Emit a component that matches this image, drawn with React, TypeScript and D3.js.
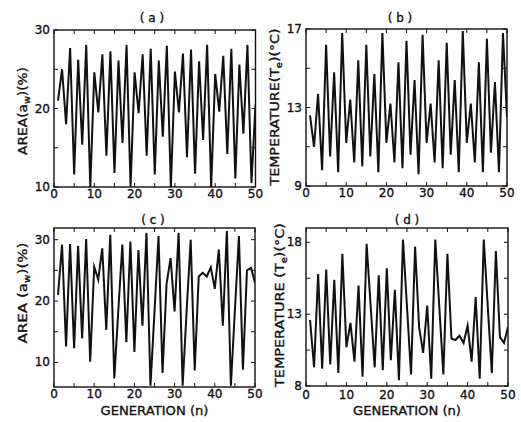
import React from "react";
import * as d3 from "d3";

const generations = d3.range(1, 51);
const xTicks = [0, 10, 20, 30, 40, 50];
const xMinorTicks = [5, 15, 25, 35, 45];

const areaA = [21, 25, 18, 27.7, 11.6, 26.2, 15.4, 28.1, 10, 24.6,
  19.5, 26.9, 14, 27.3, 11.8, 26.1, 15.6, 28.1, 10, 24.6,
  19.4, 26.9, 14, 27.6, 11.6, 26.1, 16.4, 28, 10, 24.7,
  19.5, 27, 13.8, 27.5, 11.7, 26, 16, 28.1, 10, 24.4,
  19.6, 26.7, 14.2, 27.6, 11.1, 25.6, 16.8, 28.1, 10.5, 20.5];

const tempB = [12.6, 11, 13.7, 9.8, 16.2, 10.5, 14.8, 9.7, 16.8, 11.2,
  13.4, 10.2, 15.4, 10, 16.2, 10.5, 14.7, 9.7, 16.8, 11.2,
  13.2, 10.2, 15.3, 9.9, 16.4, 10.6, 14.4, 9.6, 16.7, 11.2,
  13.2, 10.2, 15.4, 9.9, 16.3, 10.6, 14.4, 9.7, 16.9, 11.2,
  13.2, 10.2, 15.3, 9.7, 16.5, 10.7, 14.3, 9.7, 16.8, 12.5];

const areaC = [21, 29.2, 12.6, 29.3, 12.3, 29, 13.9, 30.1, 10.1, 25.6,
  23.5, 28.6, 15.3, 30.8, 7.4, 18.5, 29.2, 13.3, 29.7, 11.7,
  28.3, 16, 31.1, 6.2, 18.3, 30.6, 8.3, 22.8, 27, 18.3,
  31.1, 6.2, 18.5, 30, 8.7, 24, 24.6, 24, 25.5, 22,
  28.4, 16, 31.4, 6.2, 18.5, 30.6, 8.8, 25, 25.4, 23];

const tempD = [12.6, 9.3, 15.8, 9.2, 16.1, 9.5, 15.4, 8.9, 17.2, 10.7,
  12.4, 9.7, 15, 8.65, 17.9, 13.6, 9.3, 15.7, 9.1, 16.2,
  9.8, 14.7, 8.4, 18.2, 13.5, 8.8, 17.7, 12.1, 10.3, 13.6,
  8.5, 18.2, 13.5, 8.8, 17.2, 11.3, 11.2, 11.5, 11, 12.2,
  9.7, 14.2, 8.5, 18.2, 13.5, 8.9, 17.4, 11.4, 11, 12.1];

const ticksA = [10, 20, 30];
const minorA = [15, 25];
const ticksB = [9, 13, 17];
const minorB = [11, 15];
const ticksC = [10, 20, 30];
const minorC = [15, 25];
const ticksD = [8, 13, 18];
const minorD = [10.5, 15.5];

const FONT = "'DejaVu Sans', sans-serif";

type PanelProps = {
  id: string;
  title: string;
  values: number[];
  left: number; right: number; top: number; bottom: number;
  yDomain: [number, number];
  yTicks: number[];
  yMinor: number[];
  xLabelBase: number;
  label: { pre: string; sub: string; post: string; x: number; cy: number; len: number };
  showXLabel: boolean;
  titleX: number; titleY: number;
};

const textStyle = { stroke: "#111", strokeWidth: 0.35 } as const;

function Panel(p: PanelProps) {
  const x = d3.scaleLinear().domain([0, 50]).range([p.left, p.right]);
  const y = d3.scaleLinear().domain(p.yDomain).range([p.bottom, p.top]);
  const line = d3.line<number>().x((_, i) => x(generations[i])).y((d) => y(d));
  const tl = 4;
  const clipId = "clip-" + p.id;
  return (
    <g>
      <defs>
        <clipPath id={clipId}>
          <rect x={p.left} y={p.top - 1} width={p.right - p.left} height={p.bottom - p.top + 2} />
        </clipPath>
      </defs>
      <path d={line(p.values) || ""} fill="none" stroke="#111" strokeWidth={2} strokeLinejoin="miter" strokeMiterlimit={6} clipPath={`url(#${clipId})`} />
      <rect x={p.left} y={p.top} width={p.right - p.left} height={p.bottom - p.top} fill="none" stroke="#111" strokeWidth={1.4} />
      {[...xTicks, ...xMinorTicks].map((t) => (
        <g key={"xt" + t}>
          <line x1={x(t)} x2={x(t)} y1={p.bottom} y2={p.bottom - tl} stroke="#111" strokeWidth={1} />
          <line x1={x(t)} x2={x(t)} y1={p.top} y2={p.top + tl} stroke="#111" strokeWidth={1} />
        </g>
      ))}
      {[...p.yTicks, ...p.yMinor].map((t) => (
        <g key={"yt" + t}>
          <line x1={p.left} x2={p.left + tl} y1={y(t)} y2={y(t)} stroke="#111" strokeWidth={1} />
          <line x1={p.right} x2={p.right - tl} y1={y(t)} y2={y(t)} stroke="#111" strokeWidth={1} />
        </g>
      ))}
      {xTicks.map((t) => (
        <text key={"xl" + t} x={x(t)} y={p.xLabelBase} textAnchor="middle" fontSize={12} fontFamily={FONT} fill="#111" style={textStyle}>{t}</text>
      ))}
      {p.yTicks.map((t) => (
        <text key={"yl" + t} x={p.left - 4} y={y(t) + 4} textAnchor="end" fontSize={12} fontFamily={FONT} fill="#111" style={textStyle}>{t}</text>
      ))}
      <text x={p.titleX} y={p.titleY} textAnchor="middle" fontSize={12} fontFamily={FONT} fill="#111" style={textStyle}>{p.title}</text>
      <text transform={`translate(${p.label.x},${p.label.cy}) rotate(-90)`} textAnchor="middle" fontSize={13} fontFamily={FONT} fill="#111" style={textStyle} textLength={p.label.len} lengthAdjust="spacingAndGlyphs">
        {p.label.pre}<tspan fontSize={9} dy={3}>{p.label.sub}</tspan><tspan dy={-3}>{p.label.post}</tspan>
      </text>
      {p.showXLabel && (
        <text x={(p.left + p.right) / 2} y={415} textAnchor="middle" fontSize={13} fontFamily={FONT} fill="#111" style={textStyle} textLength={108} lengthAdjust="spacingAndGlyphs">GENERATION (n)</text>
      )}
    </g>
  );
}

export default function App() {
  return (
    <svg width={521} height={422} style={{ position: "absolute", left: 0, top: 0, background: "#fff" }}>
      <rect width={521} height={422} fill="#fff" />
      <Panel id="a" title="( a )" values={areaA} left={54} right={255.5} top={30} bottom={187}
        yDomain={[10, 30]} yTicks={ticksA} yMinor={minorA} xLabelBase={198}
        label={{ pre: "AREA(a", sub: "w", post: ")(%)", x: 27, cy: 111, len: 88 }}
        showXLabel={false} titleX={152} titleY={22} />
      <Panel id="b" title="( b )" values={tempB} left={306} right={507} top={29} bottom={186}
        yDomain={[9, 17]} yTicks={ticksB} yMinor={minorB} xLabelBase={197}
        label={{ pre: "TEMPERATURE(T", sub: "e", post: ")(°C)", x: 279, cy: 107, len: 157 }}
        showXLabel={false} titleX={400} titleY={22} />
      <Panel id="c" title="( c )" values={areaC} left={54} right={255} top={228} bottom={387}
        yDomain={[6, 31.9]} yTicks={ticksC} yMinor={minorC} xLabelBase={398}
        label={{ pre: "AREA (a", sub: "w", post: ")(%)", x: 27, cy: 293, len: 101 }}
        showXLabel={true} titleX={153} titleY={224} />
      <Panel id="d" title="( d )" values={tempD} left={306} right={508} top={228} bottom={386}
        yDomain={[8, 19]} yTicks={ticksD} yMinor={minorD} xLabelBase={399}
        label={{ pre: "TEMPERATURE (T", sub: "e", post: ")(°C)", x: 284, cy: 305, len: 164 }}
        showXLabel={true} titleX={407} titleY={224} />
    </svg>
  );
}
